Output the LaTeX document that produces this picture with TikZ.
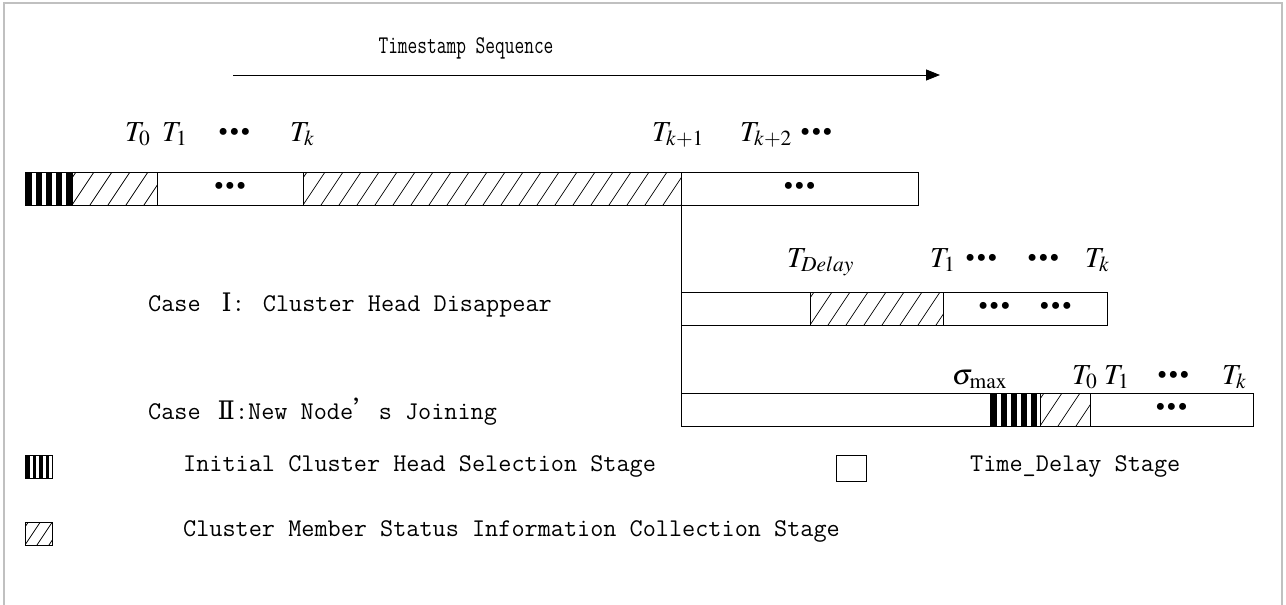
\documentclass[tikz,border=0pt]{standalone}
\usepackage{mathptmx}
\usepackage{graphicx}
\usepackage{fontspec}
\setmainfont{Liberation Serif}
\newfontfamily\cjk{Noto Sans CJK SC}
\newfontfamily\romnum{DejaVu Serif}
\usetikzlibrary{arrows.meta}
\definecolor{frameg}{RGB}{192,192,192}
\newcommand{\tdots}{\textbullet\kern1pt\textbullet\kern1pt\textbullet}
\tikzset{
  lbl/.style={font=\fontsize{29}{34}\selectfont, anchor=base west, inner sep=0pt},
  txt/.style={font=\ttfamily\fontsize{25.5}{29}\selectfont\addfontfeature{FakeBold=0.8}, anchor=west, inner sep=0pt},
  stage/.style={draw, line width=0.8pt, minimum height=33pt, inner sep=0pt, outer sep=0pt,
    anchor=north west, font=\fontsize{29}{34}\selectfont},
  hatched/.style={stage, path picture={
      \foreach \i in {-3,...,26}
        \draw[line width=0.7pt] ([xshift=\i*#1]path picture bounding box.south west) -- ++(24pt,36pt);}},
  hatched/.default=18pt,
  striped/.style={stage, path picture={
      \foreach \i in {0,...,6}
        \fill ([xshift=\i*#1+1pt]path picture bounding box.south west) rectangle ++(0.58*#1,40pt);}},
  striped/.default=10pt
}
\begin{document}
\begin{tikzpicture}[x=1pt,y=-1pt]
  \useasboundingbox (0,0) rectangle (1286,605);
  \draw[frameg, line width=2pt] (4,612) -- (4,3) -- (1282,3) -- (1282,612);

  % time axis
  \node[txt, anchor=center] (title) at (466,48) {\scalebox{0.74}[1]{Timestamp Sequence}};
  \coordinate (a0) at (233,75);
  \coordinate (a1) at (940,75);
  \draw[-{Triangle[length=14pt,width=11pt]}, line width=0.8pt] (a0) -- (a1);

  % main sequence
  \node[striped, minimum width=47pt] (s0) at (25,172) {};
  \node[hatched, minimum width=85pt] (h0) at (s0.north east) {};
  \node[stage, minimum width=146pt] (d0) at (h0.north east) {\tdots};
  \node[hatched, minimum width=378pt] (h1) at (d0.north east) {};
  \node[stage, minimum width=237pt] (d1) at (h1.north east) {\tdots};

  \node[lbl] (T0) at (125,141) {$T_0$};
  \node[lbl] (T1) at (162,141) {$T_1$};
  \node[lbl] (e0) at (218,141) {\tdots};
  \node[lbl] (Tk) at (290,141) {$T_k$};
  \node[lbl] (Tk1) at (652,141) {$T_{k+1}$};
  \node[lbl] (Tk2) at (740,141) {$T_{k+2}$};
  \node[lbl] (e1) at (800,141) {\tdots};

  % case I
  \node[txt] (c1) at (148,305) {Case\hspace{21pt}{\romnum Ⅰ}:\hspace{18pt}Cluster Head Disappear};
  \node[stage, minimum width=129pt] (d2) at (681,292) {};
  \node[hatched, minimum width=133pt] (h2) at (d2.north east) {};
  \node[stage, minimum width=164pt] (d3) at (h2.north east) {\tdots\quad\tdots};

  \node[lbl] (Td) at (787,267) {$T_{Delay}$};
  \node[lbl] (Ta) at (930,267) {$T_1$};
  \node[lbl] (e2) at (965,267) {\tdots};
  \node[lbl] (e3) at (1027,267) {\tdots};
  \node[lbl] (Tb) at (1085,267) {$T_k$};

  % case II
  \node[txt] (c2) at (148,412) {Case\hspace{17pt}{\romnum Ⅱ}:New Node{\cjk ’}s Joining};
  \node[stage, minimum width=309pt] (d4) at (681,393) {};
  \node[striped, minimum width=50pt] (s1) at (d4.north east) {};
  \node[hatched, minimum width=50pt] (h3) at (s1.north east) {};
  \node[stage, minimum width=163pt] (d5) at (h3.north east) {\tdots};

  \node[lbl] (sg) at (952,384) {$\sigma_{\max}$};
  \node[lbl] (Tc) at (1072,384) {$T_0$};
  \node[lbl] (Td1) at (1104,384) {$T_1$};
  \node[lbl] (e4) at (1157,384) {\tdots};
  \node[lbl] (Te) at (1222,384) {$T_k$};

  \draw[line width=0.8pt] (d1.south west) -- (d4.north west);

  % legend
  \node[striped=6.5pt, minimum width=27pt, minimum height=23pt] (key1) at (25,455) {};
  \node[txt] (t1) at (183,466) {Initial Cluster Head Selection Stage};
  \node[stage, minimum width=30pt, minimum height=26pt] (key3) at (836,455) {};
  \node[txt] (t3) at (970,466) {Time\_Delay Stage};
  \node[hatched=12pt, minimum width=27pt, minimum height=23pt] (key2) at (25,522) {};
  \node[txt] (t2) at (183,531) {Cluster Member Status Information Collection Stage};
\end{tikzpicture}
\end{document}
